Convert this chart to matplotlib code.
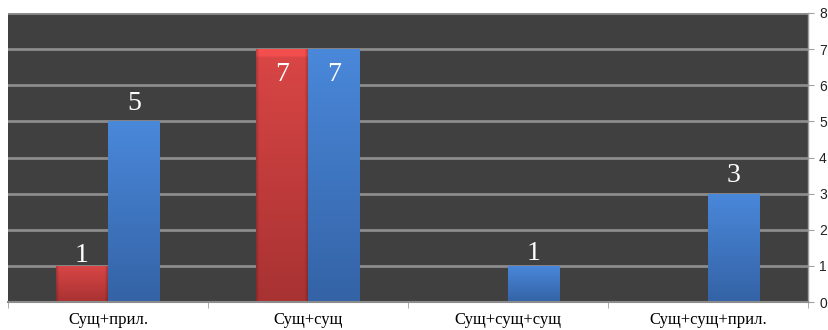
import numpy as np
import matplotlib.pyplot as plt
from matplotlib.colors import to_rgb

categories = ["Сущ+прил.", "Сущ+сущ", "Сущ+сущ+сущ", "Сущ+сущ+прил."]
red_vals = [1, 7, 0, 0]
blue_vals = [5, 7, 1, 3]

bar_w = 0.26
x = np.arange(len(categories))

fig = plt.figure(figsize=(8.29, 3.30), dpi=100)
ax = fig.add_axes([8/829, 28/330, 800/829, 289/330])
ax.set_facecolor("#404040")

red_bars = ax.bar(x - bar_w/2, red_vals, bar_w, color="#C83C3C", zorder=2)
blue_bars = ax.bar(x + bar_w/2, blue_vals, bar_w, color="#3C78C8", zorder=2)


def shade(bar, top, bottom, bevel=False):
    # vertical gradient clipped to the bar, optional bevelled edges
    h = 100
    w = 60
    t = np.linspace(0, 1, h)[:, None]
    c0 = np.array(to_rgb(top))
    c1 = np.array(to_rgb(bottom))
    img = (1 - t)[..., None] * c0 + t[..., None] * c1
    img = np.repeat(img, w, axis=1)
    if bevel:
        xs = np.linspace(0, 1, w)
        edge = np.clip(np.minimum(xs, 1 - xs) * 18, 0, 1)
        img = img * (0.8 + 0.2 * edge)[None, :, None]
        img[:3] = np.clip(img[:3] * 1.12, 0, 1)
    bx, by = bar.get_x(), bar.get_y()
    bw, bh = bar.get_width(), bar.get_height()
    if bh <= 0:
        return
    im = ax.imshow(img, extent=[bx, bx + bw, by, by + bh], aspect="auto",
                   zorder=2.5, interpolation="bilinear")
    im.set_clip_path(bar)


for b in red_bars:
    shade(b, "#DA4646", "#A83232", bevel=True)
for b in blue_bars:
    shade(b, "#4A88DA", "#3463A6")

lbl = dict(color="white", fontsize=20, family="Liberation Serif",
           ha="center", zorder=4)
for b, v in zip(red_bars, red_vals):
    if v == 0:
        continue
    cx = b.get_x() + b.get_width()/2
    if v >= 7:
        ax.text(cx, v - 0.35, str(v), va="top", **lbl)
    else:
        ax.text(cx, v - 0.05, str(v), va="bottom", **lbl)
for b, v in zip(blue_bars, blue_vals):
    cx = b.get_x() + b.get_width()/2
    if v >= 7:
        ax.text(cx, v - 0.35, str(v), va="top", **lbl)
    elif v == 1:
        ax.text(cx, v, str(v), va="bottom", **lbl)
    else:
        ax.text(cx, v + 0.15, str(v), va="bottom", **lbl)

ax.set_xlim(-0.5, len(categories) - 0.5)
ax.set_ylim(0, 8)
ax.set_yticks(range(0, 9))
ax.yaxis.tick_right()
ax.tick_params(axis="y", direction="out", length=4, color="#A0A0A0",
               labelsize=10, labelcolor="#222222", pad=4)
for t in ax.get_yticklabels():
    t.set_family("Liberation Sans")
ax.grid(axis="y", color="#8C8C8C", linewidth=2, zorder=1)
ax.set_axisbelow(True)

ax.set_xticks(x)
ax.set_xticklabels(categories, family="Liberation Serif", fontsize=12,
                   color="black")
ax.tick_params(axis="x", length=0, pad=7)
ax.set_xticks(np.arange(-0.5, len(categories)), minor=True)
ax.tick_params(axis="x", which="minor", length=4, color="#A0A0A0",
               direction="out")

for s in ["top", "left"]:
    ax.spines[s].set_visible(False)
ax.spines["bottom"].set_color("#8C8C8C")
ax.spines["bottom"].set_linewidth(1.5)
ax.spines["right"].set_color("#A0A0A0")
ax.spines["right"].set_linewidth(1)

plt.savefig("out.png", dpi=100)
